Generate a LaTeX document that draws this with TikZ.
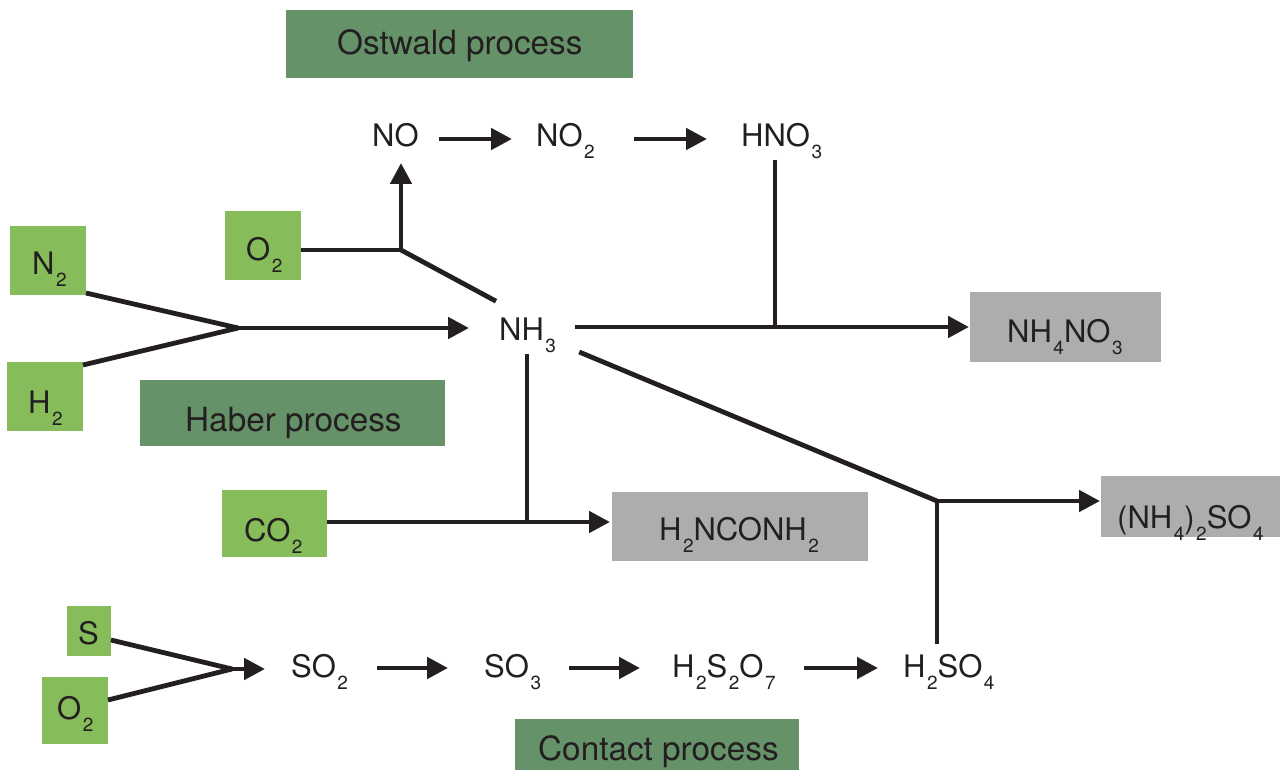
\documentclass[tikz,border=0pt]{standalone}
\usepackage{fontspec}
\setmainfont{TeX Gyre Heros}
\usetikzlibrary{arrows.meta}
\definecolor{lgreen}{HTML}{86BC5A}
\definecolor{dgreen}{HTML}{66926A}
\definecolor{gbox}{HTML}{ADADB0}
\definecolor{ink}{HTML}{231F20}
\newcommand{\dn}[1]{\kern1.5pt\raisebox{-12pt}{\fontsize{19}{19}\selectfont #1}}
\begin{document}
\begin{tikzpicture}[x=1pt,y=-1pt,
  chem/.style={anchor=base west,inner sep=0pt,text=ink,font=\fontsize{31}{37}\selectfont},
  lab/.style={anchor=base west,inner sep=0pt,text=ink,font=\fontsize{33.3}{40}\selectfont},
  boxs/.style={inner sep=0pt,outer sep=0pt,draw=none},
  ln/.style={draw=ink,line width=4.8pt},
  arr/.style={ln,-{Triangle[length=21pt,width=21pt]}}]
\useasboundingbox (0,0) rectangle (1280,770);
% boxes
\node[boxs,fill=dgreen,minimum width=347pt,minimum height=68pt] (ostbox) at (459.5,44) {};
\node[boxs,fill=lgreen,minimum width=76pt,minimum height=69pt] (n2box) at (48,260.5) {};
\node[boxs,fill=lgreen,minimum width=76pt,minimum height=69pt] (h2box) at (45,396.5) {};
\node[boxs,fill=lgreen,minimum width=76pt,minimum height=69pt] (o2abox) at (263,245.5) {};
\node[boxs,fill=dgreen,minimum width=305pt,minimum height=66pt] (haberbox) at (292.5,413) {};
\node[boxs,fill=lgreen,minimum width=105pt,minimum height=67pt] (co2box) at (274.5,523.5) {};
\node[boxs,fill=gbox,minimum width=256pt,minimum height=69pt] (ureabox) at (740,526.5) {};
\node[boxs,fill=gbox,minimum width=191pt,minimum height=70pt] (nhnobox) at (1065.5,327) {};
\node[boxs,fill=gbox,minimum width=179pt,minimum height=61pt] (amsbox) at (1190.5,506.5) {};
\node[boxs,fill=lgreen,minimum width=44pt,minimum height=50pt] (sbox) at (89,631) {};
\node[boxs,fill=lgreen,minimum width=66pt,minimum height=67pt] (o2bbox) at (75,710.5) {};
\node[boxs,fill=dgreen,minimum width=284pt,minimum height=51pt] (contactbox) at (657,744.5) {};
% texts
\node[lab] (ostlab) at (337,55) {Ostwald process};
\node[lab] (haberlab) at (185,431) {Haber process};
\node[lab] (contactlab) at (538,760) {Contact process};
\node[chem] (no) at (372,147) {NO};
\node[chem] (no2) at (536,147) {NO\dn{2}};
\node[chem] (hno3) at (741,147) {HNO\dn{3}};
\node[chem] (o2a) at (246,261) {O\dn{2}};
\node[chem] (n2) at (32,275) {N\dn{2}};
\node[chem] (h2) at (28,413) {H\dn{2}};
\node[chem] (nh3) at (499,340) {NH\dn{3}};
\node[chem] (nh4no3) at (1007,342) {NH\dn{4}NO\dn{3}};
\node[chem] (co2) at (244,541) {CO\dn{2}};
\node[chem] (urea) at (659,540) {H\dn{2}NCONH\dn{2}};
\node[chem] (ams) at (1117,528) {(NH\dn{4})\dn{2}SO\dn{4}};
\node[chem] (s) at (78,644) {S};
\node[chem] (o2b) at (57,719) {O\dn{2}};
\node[chem] (so2) at (291,677) {SO\dn{2}};
\node[chem] (so3) at (484,677) {SO\dn{3}};
\node[chem] (h2s2o7) at (672,677) {H\dn{2}S\dn{2}O\dn{7}};
\node[chem] (h2so4) at (903,677) {H\dn{2}SO\dn{4}};
% junctions
\coordinate (j1) at (401,250);
\coordinate (jh) at (238,328);
\coordinate (jn) at (775,327);
\coordinate (ju) at (527,522);
\coordinate (ja) at (937,501);
\coordinate (js) at (232,669);
% Ostwald
\draw[arr,shorten <=20pt,shorten >=24pt] ([yshift=8pt]no.base east) -- ([yshift=8pt]no2.base west);
\draw[arr,shorten <=39pt,shorten >=34pt] ([yshift=8pt]no2.base east) -- ([yshift=8pt]hno3.base west);
\draw[ln] (o2abox.east |- j1) -- (j1);
\draw[arr,shorten >=16pt] (j1) -- (j1 |- no.base);
\draw[ln] (j1) -- ([shift={(-3pt,16pt)}]nh3.north west);
% Haber
\draw[ln] ([yshift=2pt]n2box.south east) -- (jh);
\draw[ln] ([yshift=-3pt]h2box.north east) -- (jh);
\draw[arr,shorten >=30pt] (jh) -- (jh -| nh3.west);
% ammonium nitrate
\draw[arr,shorten <=19pt,shorten >=1pt] (nh3.east |- jn) -- (nhnobox.west |- jn);
\draw[ln,shorten <=13pt] (jn |- hno3.base) -- (jn);
% urea
\draw[ln,shorten <=14pt] (ju |- nh3.base) -- (ju);
\draw[arr,shorten >=2pt] (co2box.east |- ju) -- (ureabox.west |- ju);
% ammonium sulfate
\draw[ln] ([shift={(23pt,-12pt)}]nh3.base east) -- (ja);
\draw[arr,shorten >=1pt] (ja) -- (amsbox.west |- ja);
\draw[ln,shorten <=10pt] (ja |- h2so4.north) -- (ja);
% Contact
\draw[ln] ([yshift=-9pt]sbox.east) -- (js);
\draw[ln] ([yshift=10.5pt]o2bbox.east) -- (js);
\draw[arr,shorten >=26pt] (js) -- (js -| so2.west);
\draw[arr,shorten <=29pt,shorten >=36pt] ([yshift=9pt]so2.base east) -- ([yshift=9pt]so3.base west);
\draw[arr,shorten <=28pt,shorten >=32pt] ([yshift=9pt]so3.base east) -- ([yshift=9pt]h2s2o7.base west);
\draw[arr,shorten <=28pt,shorten >=25pt] ([yshift=9pt]h2s2o7.base east) -- ([yshift=9pt]h2so4.base west);
\end{tikzpicture}
\end{document}
